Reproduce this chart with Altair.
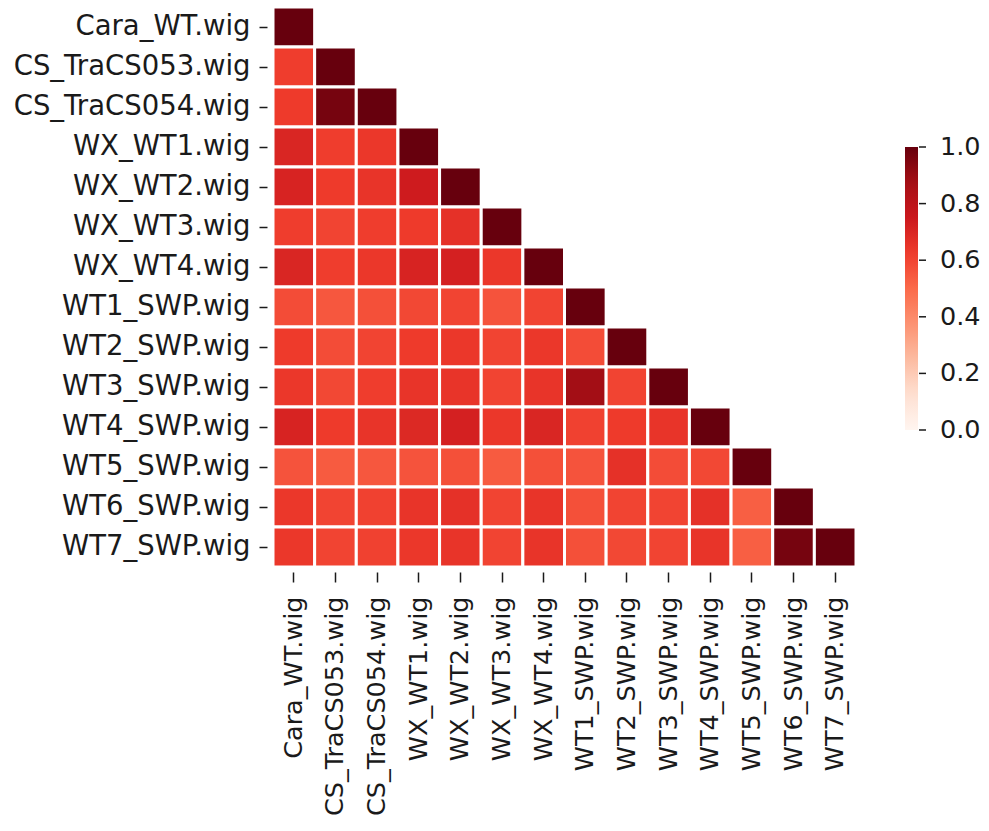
import altair as alt
import pandas as pd

labels = ["Cara_WT.wig", "CS_TraCS053.wig", "CS_TraCS054.wig", "WX_WT1.wig",
          "WX_WT2.wig", "WX_WT3.wig", "WX_WT4.wig", "WT1_SWP.wig", "WT2_SWP.wig",
          "WT3_SWP.wig", "WT4_SWP.wig", "WT5_SWP.wig", "WT6_SWP.wig", "WT7_SWP.wig"]

# lower-triangular correlation rows (row i has i+1 values, last is the diagonal)
row_cara = [1.0]
row_cs053 = [0.62, 1.0]
row_cs054 = [0.63, 0.97, 1.0]
row_wt1 = [0.70, 0.62, 0.64, 1.0]
row_wt2 = [0.71, 0.63, 0.65, 0.74, 1.0]
row_wt3 = [0.62, 0.60, 0.62, 0.63, 0.66, 1.0]
row_wt4 = [0.70, 0.62, 0.64, 0.71, 0.72, 0.64, 1.0]
row_swp1 = [0.58, 0.55, 0.57, 0.59, 0.60, 0.56, 0.60, 1.0]
row_swp2 = [0.63, 0.58, 0.60, 0.63, 0.64, 0.60, 0.64, 0.58, 1.0]
row_swp3 = [0.64, 0.59, 0.62, 0.65, 0.65, 0.60, 0.65, 0.88, 0.60, 1.0]
row_swp4 = [0.71, 0.63, 0.65, 0.69, 0.72, 0.64, 0.70, 0.61, 0.63, 0.65, 1.0]
row_swp5 = [0.56, 0.54, 0.55, 0.56, 0.57, 0.54, 0.57, 0.56, 0.66, 0.58, 0.59, 1.0]
row_swp6 = [0.64, 0.60, 0.61, 0.65, 0.66, 0.60, 0.65, 0.57, 0.60, 0.60, 0.66, 0.53, 1.0]
row_swp7 = [0.64, 0.60, 0.61, 0.64, 0.65, 0.60, 0.65, 0.57, 0.59, 0.60, 0.65, 0.53, 0.97, 1.0]

rows = [row_cara, row_cs053, row_cs054, row_wt1, row_wt2, row_wt3, row_wt4,
        row_swp1, row_swp2, row_swp3, row_swp4, row_swp5, row_swp6, row_swp7]

reds_stops = [0, 0.125, 0.25, 0.375, 0.5, 0.625, 0.75, 0.875, 1.0]
reds_colors = ["#fff5f0", "#fee0d2", "#fcbba1", "#fc9272", "#fb6a4a",
               "#ef3b2c", "#cb181d", "#a50f15", "#67000d"]
legend_ticks = [0.0, 0.2, 0.4, 0.6, 0.8, 1.0]
legend_tick_labels = ["0.0", "0.2", "0.4", "0.6", "0.8", "1.0"]

records = []
for i, vals in enumerate(rows):
    for j, v in enumerate(vals):
        records.append({"row": labels[i], "col": labels[j], "value": v})
df = pd.DataFrame(records)
ticks_df = pd.DataFrame({"t": legend_ticks, "lab": legend_tick_labels})

FONT = "DejaVu Sans"
FS_Y = 27.5
FS_X = 25.5
FS_L = 25.5
INK = "#1a1a1a"

heat = alt.Chart(df).mark_rect(stroke="white", strokeWidth=3).encode(
    x=alt.X("col:N", sort=labels, title=None,
            scale=alt.Scale(paddingInner=0, paddingOuter=0),
            axis=alt.Axis(labelAngle=-90, domain=False, tickSize=10, tickWidth=1.5,
                          tickColor=INK, labelFontSize=FS_X, labelFont=FONT,
                          labelColor=INK, labelPadding=14, offset=5,
                          labelLimit=400, grid=False)),
    y=alt.Y("row:N", sort=labels, title=None,
            scale=alt.Scale(paddingInner=0, paddingOuter=0),
            axis=alt.Axis(domain=False, tickSize=8, tickWidth=1.5, tickColor=INK,
                          labelFontSize=FS_Y, labelFont=FONT, labelColor=INK,
                          labelPadding=9, offset=6, labelLimit=400, grid=False)),
    color=alt.Color("value:Q", title=None,
                    scale=alt.Scale(domain=reds_stops, range=reds_colors, interpolate="rgb"),
                    legend=alt.Legend(orient="none", legendX=632, legendY=140,
                                      gradientLength=283, gradientThickness=13,
                                      gradientStrokeWidth=0, values=legend_ticks,
                                      labelOpacity=0, direction="vertical")),
)

cbar_scale = alt.Scale(domain=[0, 1], range=[423, 140])

cbar_ticks = alt.Chart(ticks_df).mark_rule(color=INK, strokeWidth=1.5).encode(
    x=alt.value(646), x2=alt.value(653),
    y=alt.Y("t:Q", scale=cbar_scale, axis=None),
)

cbar_labels = alt.Chart(ticks_df).mark_text(
    align="left", baseline="middle", font=FONT, fontSize=FS_L, color=INK
).encode(
    x=alt.value(667),
    y=alt.Y("t:Q", scale=cbar_scale, axis=None),
    text="lab:N",
)

chart = alt.layer(heat, cbar_ticks, cbar_labels).resolve_scale(y="independent").properties(
    width=583, height=560,
    background="white",
    autosize=alt.AutoSizeParams(type="none"),
    padding={"left": 273, "top": 7, "right": 133, "bottom": 264},
).configure_view(stroke="transparent", strokeWidth=0)

chart.save("out.html", embed_options={"renderer": "svg", "actions": False})
